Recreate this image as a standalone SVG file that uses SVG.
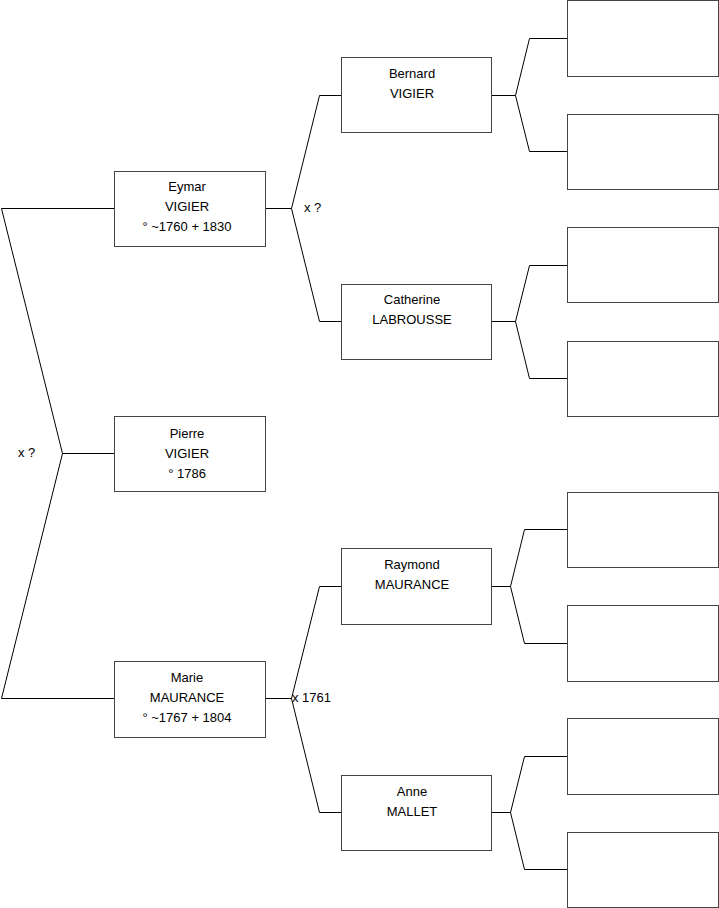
<svg xmlns="http://www.w3.org/2000/svg" width="719" height="908" viewBox="0 0 719 908">
<style>
.box{fill:#fff;stroke:#444;stroke-width:1}
.ln{fill:none;stroke:#000;stroke-width:1}
text{font-family:"Liberation Sans",Arial,sans-serif;font-size:13px;fill:#000}
.c{text-anchor:middle}
</style>
<rect width="719" height="908" fill="#fff"/>
<g id="connectors">
<path class="ln" d="M114.5,208.5 H1.5 L62.5,453.5 L1.5,698.5 H114.5 M62.5,453.5 H114.5"/>
<path class="ln" d="M265.5,208.5 H291.5 M341.5,95.5 H319.5 L291.5,208.5 L319.5,321.5 H341.5"/>
<path class="ln" d="M265.5,698.5 H291.5 M341.5,586.5 H319.5 L291.5,698.5 L319.5,812.5 H341.5"/>
<path class="ln" d="M491.5,95.5 H515.5 M567.5,38.5 H529.5 L515.5,95.5 L529.5,151.5 H567.5"/>
<path class="ln" d="M491.5,321.5 H515.5 M567.5,265.5 H529.5 L515.5,321.5 L529.5,378.5 H567.5"/>
<path class="ln" d="M491.5,586.5 H510.5 M567.5,529.5 H524.5 L510.5,586.5 L524.5,643.5 H567.5"/>
<path class="ln" d="M491.5,812.5 H510.5 M567.5,756.5 H524.5 L510.5,812.5 L524.5,869.5 H567.5"/>
<text x="304" y="212">x ?</text>
<text x="18" y="457">x ?</text>
<text x="292" y="702">x 1761</text>
</g>
<g id="eymar"><rect class="box" x="114.5" y="171.5" width="151" height="75"/>
<text class="c" x="187" y="191">Eymar</text><text class="c" x="187" y="211">VIGIER</text><text class="c" x="187" y="231">° ~1760 + 1830</text></g>
<g id="pierre"><rect class="box" x="114.5" y="416.5" width="151" height="75"/>
<text class="c" x="187" y="438">Pierre</text><text class="c" x="187" y="458">VIGIER</text><text class="c" x="187" y="478">° 1786</text></g>
<g id="marie"><rect class="box" x="114.5" y="661.5" width="151" height="76"/>
<text class="c" x="187" y="682">Marie</text><text class="c" x="187" y="702">MAURANCE</text><text class="c" x="187" y="722">° ~1767 + 1804</text></g>
<g id="bernard"><rect class="box" x="341.5" y="57.5" width="150" height="75"/>
<text class="c" x="412" y="78">Bernard</text><text class="c" x="412" y="98">VIGIER</text></g>
<g id="catherine"><rect class="box" x="341.5" y="284.5" width="150" height="75"/>
<text class="c" x="412" y="304">Catherine</text><text class="c" x="412" y="324">LABROUSSE</text></g>
<g id="raymond"><rect class="box" x="341.5" y="548.5" width="150" height="76"/>
<text class="c" x="412" y="569">Raymond</text><text class="c" x="412" y="589">MAURANCE</text></g>
<g id="anne"><rect class="box" x="341.5" y="775.5" width="150" height="75"/>
<text class="c" x="412" y="796">Anne</text><text class="c" x="412" y="816">MALLET</text></g>
<g id="g3a"><rect class="box" x="567.5" y="0.5" width="151" height="76"/></g>
<g id="g3b"><rect class="box" x="567.5" y="114.5" width="151" height="75"/></g>
<g id="g3c"><rect class="box" x="567.5" y="227.5" width="151" height="75"/></g>
<g id="g3d"><rect class="box" x="567.5" y="341.5" width="151" height="75"/></g>
<g id="g3e"><rect class="box" x="567.5" y="492.5" width="151" height="75"/></g>
<g id="g3f"><rect class="box" x="567.5" y="605.5" width="151" height="76"/></g>
<g id="g3g"><rect class="box" x="567.5" y="718.5" width="151" height="76"/></g>
<g id="g3h"><rect class="box" x="567.5" y="832.5" width="151" height="75"/></g>
</svg>
